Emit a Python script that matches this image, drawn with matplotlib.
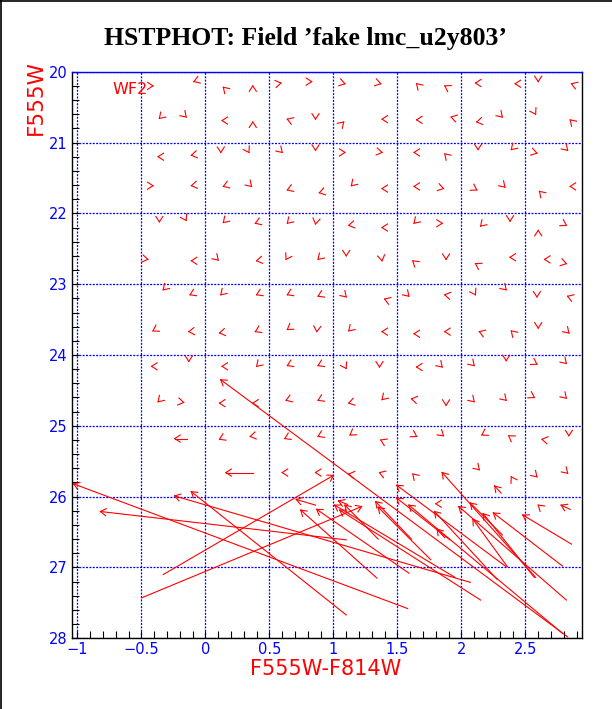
import numpy as np
import matplotlib
matplotlib.use("Agg")
import matplotlib.pyplot as plt
from matplotlib.lines import Line2D

# small arrows: head position (colour, mag) and pointing direction on screen (deg, 0=right, 90=up)
sx = [-0.41, -0.09, 0.14, 0.37, 0.59, 0.83, 1.09, 1.37, 1.65, 1.87, 2.11, 2.42, 2.60, 2.86,
      -0.36, -0.15, 0.13, 0.37, 0.64, 0.86, 1.08, 1.38, 1.65, 1.92, 2.12, 2.32, 2.58, 2.85,
      -0.37, -0.11, 0.12, 0.34, 0.60, 0.86, 1.09, 1.38, 1.63, 1.87, 2.13, 2.39, 2.59, 2.83,
      -0.41, -0.11, 0.14, 0.36, 0.64, 0.89, 1.14, 1.38, 1.63, 1.86, 2.12, 2.34, 2.61, 2.85,
      -0.36, -0.15, 0.14, 0.39, 0.64, 0.86, 1.12, 1.38, 1.63, 1.85, 2.15, 2.38, 2.60, 2.82,
      -0.45, -0.11, 0.10, 0.40, 0.63, 0.88, 1.10, 1.38, 1.62, 1.88, 2.11, 2.38, 2.65, 2.82,
      -0.33, -0.12, 0.12, 0.40, 0.64, 0.88, 1.10, 1.40, 1.59, 1.87, 2.11, 2.35, 2.59, 2.83,
      -0.41, -0.13, 0.11, 0.39, 0.64, 0.87, 1.12, 1.38, 1.63, 1.87, 2.14, 2.39, 2.60, 2.84,
      -0.42, -0.13, 0.13, 0.40, 0.64, 0.88, 1.10, 1.36, 1.65, 1.85, 2.10, 2.35, 2.59, 2.82,
      -0.37, -0.17, 0.11, 0.37, 0.63, 0.88, 1.12, 1.38, 1.61, 1.88, 2.10, 2.35, 2.57, 2.82,
      0.11, 0.35, 0.62, 0.88, 1.13, 1.37, 1.65, 1.86, 2.16, 2.37, 2.63, 2.84,
      0.60, 0.86, 1.12, 1.36, 1.62, 2.14, 2.39, 2.59, 2.83,
      1.80, 2.60]
sy = [20.20, 20.14, 20.22, 20.20, 20.16, 20.14, 20.17, 20.17, 20.17, 20.20, 20.16, 20.17, 20.14, 20.17,
      20.66, 20.64, 20.69, 20.71, 20.67, 20.67, 20.71, 20.67, 20.68, 20.64, 20.71, 20.64, 20.60, 20.68,
      21.20, 21.18, 21.14, 21.14, 21.14, 21.11, 21.14, 21.14, 21.14, 21.16, 21.10, 21.10, 21.15, 21.11,
      21.61, 21.61, 21.62, 21.62, 21.67, 21.71, 21.61, 21.65, 21.62, 21.65, 21.67, 21.63, 21.69, 21.62,
      22.12, 22.10, 22.13, 22.14, 22.14, 22.15, 22.17, 22.20, 22.14, 22.14, 22.18, 22.11, 22.24, 22.17,
      22.65, 22.67, 22.66, 22.67, 22.65, 22.65, 22.60, 22.67, 22.67, 22.65, 22.71, 22.62, 22.65, 22.71,
      23.08, 23.15, 23.15, 23.15, 23.15, 23.17, 23.18, 23.21, 23.17, 23.15, 23.15, 23.08, 23.18, 23.17,
      23.66, 23.67, 23.69, 23.67, 23.64, 23.67, 23.66, 23.67, 23.70, 23.67, 23.67, 23.66, 23.62, 23.69,
      24.16, 24.09, 24.16, 24.16, 24.15, 24.15, 24.19, 24.17, 24.17, 24.17, 24.15, 24.08, 24.13, 24.12,
      24.66, 24.67, 24.68, 24.68, 24.64, 24.64, 24.68, 24.63, 24.62, 24.71, 24.66, 24.64, 24.60, 24.61,
      25.19, 25.15, 25.18, 25.15, 25.13, 25.20, 25.15, 25.14, 25.13, 25.14, 25.19, 25.14,
      25.66, 25.66, 25.68, 25.66, 25.68, 25.62, 25.72, 25.72, 25.67,
      26.10, 26.12]
sdir = [0, 200, 135, 90, 10, 0, 345, 345, 135, 150, 180, 180, 270, 160,
        225, 315, 180, 90, 160, 270, 45, 180, 180, 165, 190, 315, 300, 135,
        180, 190, 270, 300, 315, 270, 0, 350, 180, 135, 270, 225, 345, 315,
        0, 190, 200, 315, 200, 195, 225, 180, 180, 345, 330, 315, 135, 180,
        270, 300, 225, 200, 225, 260, 190, 180, 225, 0, 225, 270, 90, 330,
        350, 180, 315, 190, 240, 225, 270, 280, 140, 270, 150, 180, 180, 345,
        225, 205, 225, 205, 205, 205, 315, 160, 315, 170, 300, 315, 270, 160,
        210, 185, 190, 205, 215, 265, 225, 180, 180, 180, 160, 135, 270, 315,
        180, 270, 180, 225, 205, 205, 300, 270, 180, 315, 315, 270, 330, 315,
        225, 350, 180, 180, 200, 205, 195, 225, 170, 270, 315, 315, 330, 315,
        205, 190, 205, 205, 215, 155, 330, 320, 210, 145, 170, 270,
        180, 180, 170, 160, 135, 315, 120, 315, 315,
        180, 140]

# longer arrows: head (output) and tail
hx = [-1.03, -0.82, -0.24, -0.11, 0.12, 1.00, 1.22, 0.71, 0.745, 0.87, 1.05, 1.01, 1.04,
      1.33, 1.09, 1.35, 1.495, 1.495, 1.59, 1.85, 1.79, 1.81, 1.98, 2.07, 2.09, 2.17,
      2.25, 2.26, 2.48, 2.78, -0.24, 0.16]
hy = [25.82, 26.21, 25.99, 25.93, 24.35, 25.70, 26.14, 26.04, 26.19, 26.18, 26.19, 26.12, 26.06,
      26.07, 26.12, 26.15, 25.84, 26.02, 26.12, 25.66, 26.21, 26.46, 26.14, 26.09, 26.32, 26.24,
      26.23, 25.85, 26.26, 26.12, 25.18, 25.66]
tx = [1.58, 1.10, 2.07, 1.10, 2.83, -0.33, -0.50, 0.86, 1.34, 1.59, 2.15, 1.95, 1.11,
      1.61, 1.35, 1.76, 2.35, 1.91, 2.79, 2.58, 2.28, 1.87, 2.82, 2.32, 2.36, 2.57,
      2.79, 2.31, 2.86, 2.85, -0.146, 0.375]
ty = [27.58, 26.61, 27.21, 27.67, 27.98, 27.10, 27.43, 26.12, 27.15, 27.08, 27.46, 27.14, 26.11,
      26.60, 26.60, 26.89, 26.99, 26.61, 27.93, 27.14, 27.17, 26.58, 27.46, 26.54, 26.99, 27.14,
      26.98, 25.95, 26.67, 26.18, 25.18, 25.66]

xmajor = [-1, -0.5, 0, 0.5, 1, 1.5, 2, 2.5]
xlabels = ['\u22121', '\u22120.5', '0', '0.5', '1', '1.5', '2', '2.5']
ymajor = [20, 21, 22, 23, 24, 25, 26, 27, 28]

RED = '#ff0000'
BLUE = '#0000ff'

fig = plt.figure(figsize=(6.12, 7.09), dpi=100)
ax = fig.add_axes([71.7 / 612, 1 - 638.3 / 709, 510 / 612, 566.6 / 709])
ax.set_xlim(-1.045, 2.94)
ax.set_ylim(28, 20)

ax.set_xticks(xmajor)
ax.set_xticklabels(xlabels)
ax.set_xticks(np.arange(-1.0, 2.95, 0.1), minor=True)
ax.set_yticks(ymajor)
ax.set_yticks(np.arange(20.0, 28.01, 0.2), minor=True)
ax.tick_params(which='both', direction='in', length=5, width=0.8, color='black',
               labelcolor=BLUE, labelsize=10.5, pad=3)
ax.grid(which='major', color=BLUE, linestyle=(0, (1.6, 1.1)), linewidth=0.9)
for side in ['left', 'bottom', 'right']:
    ax.spines[side].set_color('black')
    ax.spines[side].set_linewidth(1.0)
ax.spines['top'].set_color(BLUE)
ax.spines['top'].set_linewidth(1.0)

arm = 6.5
half = np.radians(33)
inv = ax.transData.inverted()


def draw_head(xh, yh, ang):
    px, py = ax.transData.transform((xh, yh))
    for s in (1, -1):
        a = ang + np.pi + s * half
        ex, ey = inv.transform((px + arm * np.cos(a), py + arm * np.sin(a)))
        ax.plot([xh, ex], [yh, ey], color=RED, lw=0.8, clip_on=False, zorder=3)


for x, y, d in zip(sx, sy, sdir):
    draw_head(x, y, np.radians(d))

for x0, y0, x1, y1 in zip(hx, hy, tx, ty):
    ax.plot([x1, x0], [y1, y0], color=RED, lw=0.8, clip_on=False, zorder=3)
    p0 = ax.transData.transform((x0, y0))
    p1 = ax.transData.transform((x1, y1))
    draw_head(x0, y0, np.arctan2(p0[1] - p1[1], p0[0] - p1[0]))

ax.text((112 - 71.7) / 510, 1 - (94 - 71.7) / 566.6, 'WF2', color=RED, fontsize=11.5,
        transform=ax.transAxes, va='baseline', ha='left')

fig.text(0.5, 1 - 45 / 709, 'HSTPHOT: Field \u2019fake lmc_u2y803\u2019',
         family=['Liberation Serif', 'DejaVu Serif'], weight='bold', fontsize=18.5,
         ha='center', va='baseline')
fig.text(36 / 612, 1 - 98 / 709, 'F555W', color=RED, fontsize=15.5, rotation=90,
         ha='center', va='center')
fig.text(326 / 612, 1 - 675 / 709, 'F555W-F814W', color=RED, fontsize=15,
         ha='center', va='baseline')

fig.add_artist(Line2D([0.8 / 612, 0.8 / 612], [0, 1], transform=fig.transFigure,
                      color='black', lw=1.2))
fig.add_artist(Line2D([0, 1], [1 - 0.8 / 709, 1 - 0.8 / 709], transform=fig.transFigure,
                      color='black', lw=1.2))

fig.savefig('out.png', dpi=100)
